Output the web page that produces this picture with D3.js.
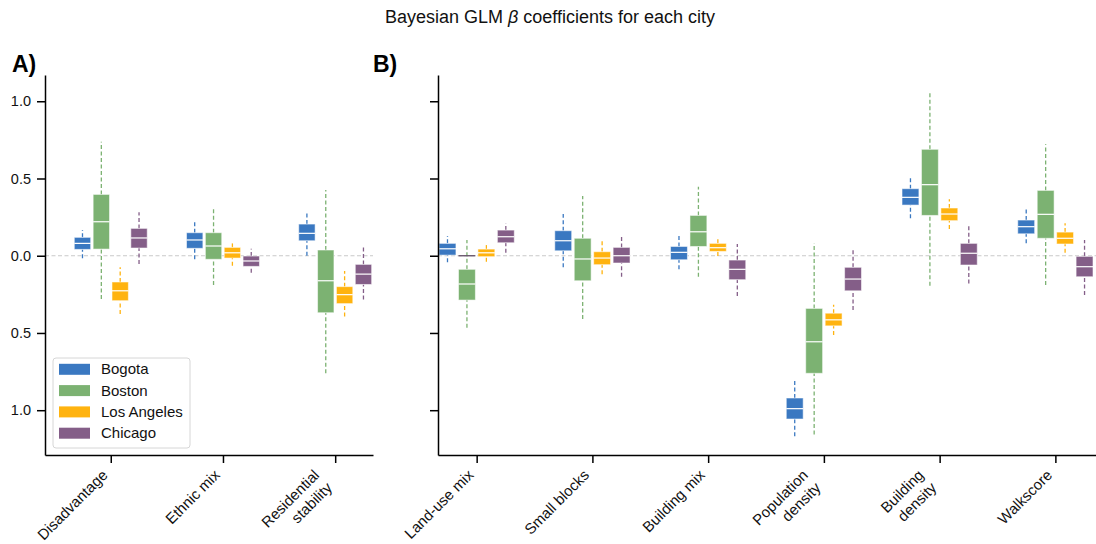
<!DOCTYPE html>
<html>
<head>
<meta charset="utf-8">
<script src="https://cdn.jsdelivr.net/npm/d3@7"></script>
<style>
  html, body { margin: 0; padding: 0; background: #fff; }
  svg { display: block; font-family: "Liberation Sans", Arial, sans-serif; }
</style>
</head>
<body>
<svg id="chart" width="1096" height="544"></svg>
<script>
// ---------------- data ----------------
const categoriesA = ["Disadvantage", "Ethnic mix", "Residential\nstability"];
const categoriesB = ["Land-use mix", "Small blocks", "Building mix", "Population\ndensity", "Building\ndensity", "Walkscore"];
const cities = ["Bogota", "Boston", "Los Angeles", "Chicago"];
const cityColors = ["#3a78c1", "#7cb272", "#ffb30f", "#845e88"];
const yTickValues = [-1, -0.5, 0, 0.5, 1];
const yTickLabels = ["1.0", "0.5", "0.0", "0.5", "1.0"];

// five-number summaries [whisker low, q1, median, q3, whisker high] per variable (A then B)
const bogota = [
  [-0.017, 0.041, 0.080, 0.119, 0.166],
  [-0.023, 0.048, 0.102, 0.149, 0.220],
  [0.000, 0.097, 0.145, 0.205, 0.274],
  [-0.043, 0.004, 0.045, 0.080, 0.127],
  [-0.075, 0.032, 0.097, 0.162, 0.270],
  [-0.088, -0.026, 0.022, 0.060, 0.127],
  [-1.169, -1.057, -0.990, -0.921, -0.809],
  [0.242, 0.328, 0.378, 0.434, 0.505],
  [0.080, 0.142, 0.188, 0.231, 0.300]
];
const boston = [
  [-0.280, 0.043, 0.220, 0.397, 0.738],
  [-0.190, -0.023, 0.063, 0.149, 0.307],
  [-0.761, -0.369, -0.162, 0.037, 0.425],
  [-0.466, -0.287, -0.183, -0.088, 0.102],
  [-0.410, -0.162, -0.021, 0.113, 0.386],
  [-0.136, 0.060, 0.155, 0.261, 0.447],
  [-1.158, -0.761, -0.557, -0.341, 0.080],
  [-0.194, 0.261, 0.460, 0.689, 1.058],
  [-0.190, 0.113, 0.268, 0.423, 0.721]
];
const losAngeles = [
  [-0.377, -0.291, -0.227, -0.170, -0.075],
  [-0.065, -0.015, 0.019, 0.054, 0.091],
  [-0.394, -0.310, -0.252, -0.200, -0.099],
  [-0.039, -0.006, 0.019, 0.043, 0.069],
  [-0.120, -0.058, -0.015, 0.026, 0.095],
  [-0.002, 0.028, 0.052, 0.080, 0.106],
  [-0.513, -0.454, -0.415, -0.372, -0.318],
  [0.173, 0.227, 0.270, 0.309, 0.365],
  [0.019, 0.076, 0.113, 0.153, 0.210]
];
const chicago = [
  [-0.054, 0.050, 0.115, 0.177, 0.281],
  [-0.110, -0.069, -0.034, -0.002, 0.045],
  [-0.283, -0.186, -0.119, -0.056, 0.058],
  [0.019, 0.084, 0.123, 0.166, 0.210],
  [-0.136, -0.047, 0.000, 0.054, 0.127],
  [-0.261, -0.155, -0.088, -0.028, 0.076],
  [-0.352, -0.227, -0.151, -0.075, 0.048],
  [-0.179, -0.060, 0.016, 0.080, 0.194],
  [-0.254, -0.136, -0.071, -0.004, 0.102]
];
const citySummaries = [bogota, boston, losAngeles, chicago];
// flat (zero-height) mark seen at Land-use mix / Boston
const flatMarks = [{ cat: 0, city: "Boston", value: 0 }];

// ---------------- layout ----------------
const svg = d3.select("#chart");
const y = d3.scaleLinear().domain([-1.29, 1.17]).range([455, 75]);
const xA = d3.scaleLinear().domain([-0.586, 2.337]).range([45, 373]);
const xB = d3.scaleLinear().domain([-0.334, 5.351]).range([438, 1096]);
const hue = d3.scalePoint().domain(cities).range([-0.252, 0.252]);
const color = d3.scaleOrdinal().domain(cities).range(cityColors);
const boxW = 0.146;
const fontTick = 15;
const fontYTick = 14.5;

// title
const title = svg.append("text")
  .attr("x", 550).attr("y", 23)
  .attr("text-anchor", "middle")
  .attr("font-size", 18).attr("fill", "#111");
title.append("tspan").text("Bayesian GLM ");
title.append("tspan").attr("font-style", "italic").text("β");
title.append("tspan").text(" coefficients for each city");

// panel labels
svg.append("text").attr("x", 12).attr("y", 72).attr("font-size", 23).attr("font-weight", "bold").text("A)");
svg.append("text").attr("x", 373).attr("y", 72).attr("font-size", 23).attr("font-weight", "bold").text("B)");

function drawPanel(x, cats, offset, showYLabels) {
  const g = svg.append("g");
  const [x0, x1] = x.range();
  // zero reference line
  g.append("line")
    .attr("x1", x0).attr("x2", x1)
    .attr("y1", y(0)).attr("y2", y(0))
    .attr("stroke", "#c9c9c9").attr("stroke-width", 1.2)
    .attr("stroke-dasharray", "4,2.5");

  // boxes
  cats.forEach((cat, i) => {
    cities.forEach((c, ci) => {
      const s = citySummaries[ci][i + offset];
      const col = color(c);
      const cx = x(i + hue(c));
      const left = x(i + hue(c) - boxW / 2);
      const right = x(i + hue(c) + boxW / 2);
      const bg = g.append("g");
      bg.append("line").attr("x1", cx).attr("x2", cx).attr("y1", y(s[0])).attr("y2", y(s[1]))
        .attr("stroke", col).attr("stroke-width", 1.3).attr("stroke-dasharray", "4,2.5");
      bg.append("line").attr("x1", cx).attr("x2", cx).attr("y1", y(s[3])).attr("y2", y(s[4]))
        .attr("stroke", col).attr("stroke-width", 1.3).attr("stroke-dasharray", "4,2.5");
      bg.append("rect")
        .attr("x", left).attr("width", right - left)
        .attr("y", y(s[3])).attr("height", y(s[1]) - y(s[3]))
        .attr("fill", col)
        .attr("stroke", "rgba(255,255,255,0.55)").attr("stroke-width", 1);
      bg.append("line").attr("x1", left).attr("x2", right).attr("y1", y(s[2])).attr("y2", y(s[2]))
        .attr("stroke", "#fff").attr("stroke-width", 1.2);
    });
  });

  // axes
  const yAxis = d3.axisLeft(y).tickValues(yTickValues).tickSize(8).tickSizeOuter(0).tickPadding(6)
    .tickFormat((d, i) => showYLabels ? yTickLabels[i] : "");
  const ya = g.append("g").attr("transform", `translate(${x0},0)`).call(yAxis);
  const xAxis = d3.axisBottom(x).tickValues(d3.range(cats.length)).tickSize(8).tickSizeOuter(0).tickFormat("");
  const xa = g.append("g").attr("transform", `translate(0,${y.range()[0]})`).call(xAxis);
  [ya, xa].forEach(a => {
    a.select(".domain").attr("stroke", "#000").attr("stroke-width", 1.5);
    a.selectAll(".tick line").attr("stroke", "#000").attr("stroke-width", 1.5);
    a.selectAll(".tick text").attr("font-size", fontYTick).attr("fill", "#111")
      .attr("font-family", "Liberation Sans, Arial, sans-serif");
  });

  // rotated category labels
  const tickBottom = y.range()[0] + 8;
  const asc = 0.9 * fontTick, desc = 0.21 * fontTick, lineH = 1.2 * fontTick;
  cats.forEach((cat, i) => {
    const lines = cat.split("\n");
    const n = lines.length;
    const ax = x(i) - 0.707 * ((n - 1) * lineH + desc);
    const ay = tickBottom + 3.5 + 0.707 * asc;
    const t = g.append("text")
      .attr("transform", `translate(${ax},${ay}) rotate(-45)`)
      .attr("text-anchor", "end")
      .attr("font-size", fontTick).attr("fill", "#111");
    lines.forEach((ln, k) => {
      t.append("tspan").attr("x", 0).attr("dy", k === 0 ? 0 : lineH).text(ln);
    });
  });
  return g;
}

drawPanel(xA, categoriesA, 0, true);
const gB = drawPanel(xB, categoriesB, categoriesA.length, false);

// flat marks
flatMarks.forEach(m => {
  gB.append("line")
    .attr("x1", xB(m.cat + hue(m.city) - boxW / 2)).attr("x2", xB(m.cat + hue(m.city) + boxW / 2))
    .attr("y1", y(m.value)).attr("y2", y(m.value))
    .attr("stroke", "#6a586d").attr("stroke-width", 1.4);
});

// legend
const lg = svg.append("g").attr("transform", "translate(53,358)");
lg.append("rect").attr("width", 137).attr("height", 90).attr("rx", 3)
  .attr("fill", "#fff").attr("fill-opacity", 0.85)
  .attr("stroke", "#d6d6d6").attr("stroke-width", 1);
cities.forEach((c, i) => {
  const cy = 11.3 + i * 21.3;
  lg.append("rect").attr("x", 6).attr("y", cy - 5.5).attr("width", 31).attr("height", 11).attr("fill", color(c));
  lg.append("text").attr("x", 48).attr("y", cy + 5).attr("font-size", 15).attr("fill", "#111").text(c);
});
</script>
</body>
</html>
